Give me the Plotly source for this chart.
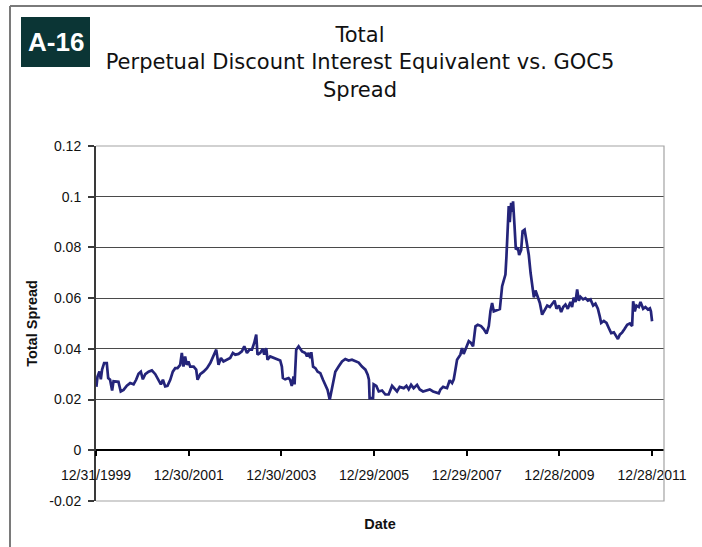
import plotly.graph_objects as go

# Total spread series (date, value)
dates = [
    "2000-01-03", "2000-01-12", "2000-01-27", "2000-02-07", "2000-02-17", "2000-03-04",
    "2000-03-25", "2000-04-05", "2000-04-20", "2000-05-06", "2000-05-17", "2000-06-25",
    "2000-07-13", "2000-08-04", "2000-08-30", "2000-09-25", "2000-10-22", "2000-11-11",
    "2000-11-30", "2000-12-18", "2001-01-03", "2001-01-22", "2001-02-17", "2001-03-15",
    "2001-04-11", "2001-05-07", "2001-05-25", "2001-06-10", "2001-06-28", "2001-07-16",
    "2001-08-07", "2001-08-27", "2001-09-15", "2001-10-03", "2001-10-24", "2001-11-06",
    "2001-11-19", "2001-12-02", "2001-12-15", "2001-12-28", "2002-01-11", "2002-02-07",
    "2002-02-27", "2002-03-10", "2002-03-31", "2002-04-26", "2002-05-23", "2002-06-18",
    "2002-07-14", "2002-08-04", "2002-08-22", "2002-09-10", "2002-09-30", "2002-10-31",
    "2002-11-22", "2002-12-13", "2003-01-01", "2003-01-27", "2003-02-22", "2003-03-13",
    "2003-04-03", "2003-04-23", "2003-05-12", "2003-05-30", "2003-06-15", "2003-06-25",
    "2003-07-16", "2003-08-06", "2003-08-17", "2003-09-02", "2003-09-12", "2003-10-03",
    "2003-10-30", "2003-11-25", "2003-12-21", "2004-01-03", "2004-01-11", "2004-01-29",
    "2004-02-25", "2004-03-08", "2004-03-21", "2004-04-04", "2004-04-12", "2004-04-25",
    "2004-05-14", "2004-06-10", "2004-07-06", "2004-07-19", "2004-08-01", "2004-08-14",
    "2004-08-22", "2004-09-05", "2004-09-23", "2004-10-11", "2004-11-01", "2004-11-22",
    "2004-12-10", "2004-12-28", "2005-01-14", "2005-01-24", "2005-02-09", "2005-02-27",
    "2005-03-25", "2005-04-21", "2005-05-17", "2005-06-12", "2005-07-08", "2005-08-04",
    "2005-08-30", "2005-09-25", "2005-10-22", "2005-11-09", "2005-11-19", "2005-11-24",
    "2005-12-21", "2005-12-26", "2006-01-16", "2006-02-04", "2006-03-02", "2006-03-28",
    "2006-04-23", "2006-05-20", "2006-06-07", "2006-06-28", "2006-07-19", "2006-08-20",
    "2006-09-10", "2006-09-28", "2006-10-17", "2006-11-06", "2006-12-03", "2006-12-24",
    "2007-01-19", "2007-02-15", "2007-03-13", "2007-04-08", "2007-05-05", "2007-05-23",
    "2007-06-05", "2007-06-26", "2007-07-27", "2007-08-17", "2007-09-05", "2007-09-18",
    "2007-10-01", "2007-10-14", "2007-11-09", "2007-11-22", "2007-12-05", "2007-12-26",
    "2008-01-14", "2008-02-01", "2008-02-17", "2008-03-07", "2008-03-25", "2008-04-20",
    "2008-05-11", "2008-06-02", "2008-06-20", "2008-07-03", "2008-07-16", "2008-07-29",
    "2008-08-19", "2008-09-15", "2008-10-03", "2008-10-16", "2008-10-29", "2008-11-06",
    "2008-11-16", "2008-11-24", "2008-12-02", "2008-12-13", "2008-12-23", "2008-12-28",
    "2009-01-08", "2009-01-19", "2009-02-04", "2009-02-14", "2009-03-02", "2009-03-13",
    "2009-03-29", "2009-04-14", "2009-05-01", "2009-05-15", "2009-05-28", "2009-06-10",
    "2009-06-23", "2009-07-06", "2009-07-27", "2009-08-14", "2009-09-02", "2009-09-23",
    "2009-10-14", "2009-11-01", "2009-11-20", "2009-12-05", "2009-12-24", "2010-01-11",
    "2010-01-27", "2010-02-14", "2010-03-04", "2010-03-25", "2010-04-07", "2010-04-20",
    "2010-05-04", "2010-05-17", "2010-05-30", "2010-06-12", "2010-07-03", "2010-07-21",
    "2010-08-09", "2010-08-30", "2010-09-20", "2010-10-08", "2010-10-27", "2010-11-11",
    "2010-11-22", "2010-12-13", "2011-01-03", "2011-01-21", "2011-02-09", "2011-03-02",
    "2011-03-23", "2011-04-03", "2011-04-18", "2011-05-07", "2011-05-25", "2011-06-15",
    "2011-07-06", "2011-07-24", "2011-08-01", "2011-08-14", "2011-08-27", "2011-09-15",
    "2011-09-28", "2011-10-19", "2011-11-06", "2011-11-25", "2011-12-11", "2011-12-19",
    "2011-12-28",
]

total_spread = [
    0.0250, 0.0291, 0.0311, 0.0280, 0.0318, 0.0344,
    0.0344, 0.0285, 0.0278, 0.0236, 0.0272, 0.0270,
    0.0232, 0.0238, 0.0255, 0.0265, 0.0260, 0.0278,
    0.0302, 0.0310, 0.0280, 0.0300, 0.0310, 0.0315,
    0.0300, 0.0278, 0.0260, 0.0278, 0.0252, 0.0254,
    0.0278, 0.0310, 0.0324, 0.0324, 0.0337, 0.0384,
    0.0330, 0.0370, 0.0337, 0.0350, 0.0330, 0.0330,
    0.0318, 0.0278, 0.0300, 0.0310, 0.0324, 0.0344,
    0.0370, 0.0397, 0.0337, 0.0364, 0.0350, 0.0357,
    0.0364, 0.0384, 0.0377, 0.0380, 0.0390, 0.0410,
    0.0384, 0.0397, 0.0397, 0.0423, 0.0456, 0.0377,
    0.0384, 0.0400, 0.0377, 0.0403, 0.0357, 0.0370,
    0.0364, 0.0360, 0.0354, 0.0330, 0.0285, 0.0280,
    0.0285, 0.0278, 0.0254, 0.0291, 0.0260, 0.0397,
    0.0410, 0.0390, 0.0384, 0.0370, 0.0384, 0.0364,
    0.0387, 0.0330, 0.0324, 0.0310, 0.0304, 0.0278,
    0.0260, 0.0238, 0.0199, 0.0225, 0.0265, 0.0310,
    0.0330, 0.0350, 0.0360, 0.0354, 0.0357, 0.0350,
    0.0346, 0.0330, 0.0318, 0.0298, 0.0278, 0.0206,
    0.0206, 0.0260, 0.0254, 0.0232, 0.0236, 0.0220,
    0.0220, 0.0254, 0.0245, 0.0232, 0.0250, 0.0245,
    0.0254, 0.0240, 0.0258, 0.0245, 0.0258, 0.0240,
    0.0232, 0.0236, 0.0240, 0.0232, 0.0226, 0.0225,
    0.0240, 0.0250, 0.0245, 0.0276, 0.0265, 0.0280,
    0.0318, 0.0357, 0.0377, 0.0403, 0.0380, 0.0403,
    0.0430, 0.0423, 0.0410, 0.0489, 0.0495, 0.0490,
    0.0478, 0.0460, 0.0490, 0.0548, 0.0581, 0.0548,
    0.0552, 0.0557, 0.0647, 0.0670, 0.0693, 0.0765,
    0.0884, 0.0963, 0.0900, 0.0976, 0.0940, 0.0982,
    0.0890, 0.0792, 0.0800, 0.0770, 0.0790, 0.0864,
    0.0870, 0.0820, 0.0770, 0.0700, 0.0650, 0.0603,
    0.0630, 0.0610, 0.0581, 0.0535, 0.0550, 0.0571,
    0.0565, 0.0578, 0.0590, 0.0558, 0.0571, 0.0545,
    0.0565, 0.0575, 0.0558, 0.0585, 0.0565, 0.0603,
    0.0585, 0.0634, 0.0590, 0.0605, 0.0595, 0.0600,
    0.0590, 0.0595, 0.0571, 0.0578, 0.0558, 0.0528,
    0.0502, 0.0510, 0.0502, 0.0482, 0.0462, 0.0465,
    0.0449, 0.0439, 0.0456, 0.0465, 0.0478, 0.0495,
    0.0500, 0.0490, 0.0588, 0.0548, 0.0571, 0.0565,
    0.0585, 0.0558, 0.0565, 0.0555, 0.0560, 0.0548,
    0.0509,
]

# Axis ticks
x_tick_dates = ["1999-12-31", "2001-12-30", "2003-12-30", "2005-12-29",
                "2007-12-29", "2009-12-28", "2011-12-28"]
x_tick_labels = ["12/31/1999", "12/30/2001", "12/30/2003", "12/29/2005",
                 "12/29/2007", "12/28/2009", "12/28/2011"]
y_tick_values = [-0.02, 0, 0.02, 0.04, 0.06, 0.08, 0.1, 0.12]
y_tick_labels = ["-0.02", "0", "0.02", "0.04", "0.06", "0.08", "0.1", "0.12"]

W, H = 702, 547
L, R, T, B = 96, 38, 146, 46
PW, PH = W - L - R, H - T - B


def px(x):
    """Pixel column -> paper x."""
    return (x - L) / PW


def py(y):
    """Pixel row -> paper y."""
    return (H - B - y) / PH


Y_MIN, Y_MAX = -0.02, 0.12

fig = go.Figure()
fig.add_trace(go.Scatter(
    x=dates, y=total_spread, mode="lines",
    line=dict(color="#24247a", width=2.7),
    showlegend=False, hoverinfo="x+y",
))

tick_font = dict(family="Liberation Sans, Arial, sans-serif", size=14, color="#111111")
title_font = dict(family="Liberation Sans, Arial, sans-serif", size=14.5, color="#111111", weight="bold")

fig.update_layout(
    width=W, height=H,
    margin=dict(l=L, r=R, t=T, b=B, autoexpand=False),
    paper_bgcolor="white", plot_bgcolor="white",
    title=dict(
        text="Total<br>Perpetual Discount Interest Equivalent vs. GOC5<br>Spread",
        font=dict(family="DejaVu Sans, sans-serif", size=21, color="#111111"),
        xref="container", x=360 / W, xanchor="center",
        yref="container", y=1 - 42 / H, yanchor="top",
    ),
    xaxis=dict(
        type="date",
        range=["1999-12-31", "2012-03-31"],
        tickmode="array", tickvals=x_tick_dates, ticktext=x_tick_labels,
        anchor="free", position=(0 - Y_MIN) / (Y_MAX - Y_MIN),
        showline=True, linecolor="#000000", linewidth=1.5,
        ticks="outside", ticklen=5, tickwidth=1.5, tickcolor="#000000",
        ticklabelstandoff=7,
        showgrid=False, zeroline=False,
        tickfont=tick_font,
        title=dict(text="Date", font=title_font, standoff=36),
        automargin=False,
    ),
    yaxis=dict(
        range=[Y_MIN, Y_MAX],
        tickmode="array", tickvals=y_tick_values, ticktext=y_tick_labels,
        showline=True, linecolor="#3a3a3a", linewidth=2,
        ticks="outside", ticklen=6, tickwidth=1.5, tickcolor="#3a3a3a",
        ticklabelstandoff=4,
        showgrid=True, gridcolor="#4a4a4a", gridwidth=1.2,
        zeroline=False,
        tickfont=tick_font,
        title=dict(text="Total Spread", font=title_font, standoff=8),
        automargin=False,
    ),
    shapes=[
        # plot-area border (top, right, bottom)
        dict(type="path", xref="paper", yref="paper",
             path="M 0,1 L 1,1 L 1,0 L 0,0",
             line=dict(color="#a3a3a3", width=1.2), layer="above"),
        # outer chart frame (left and top edges)
        dict(type="line", xref="paper", yref="paper",
             x0=px(10), x1=px(10), y0=py(6), y1=py(H + 5),
             line=dict(color="#7a7a7a", width=2)),
        dict(type="line", xref="paper", yref="paper",
             x0=px(10), x1=px(W + 5), y0=py(6), y1=py(6),
             line=dict(color="#7a7a7a", width=2)),
        # exhibit badge
        dict(type="rect", xref="paper", yref="paper",
             x0=px(21), x1=px(90), y0=py(67), y1=py(17),
             fillcolor="#0b3535", line=dict(width=0)),
    ],
    annotations=[
        dict(text="A-16", xref="paper", yref="paper",
             x=px(55.5), y=py(42), xanchor="center", yanchor="middle",
             showarrow=False,
             font=dict(family="Liberation Sans, Arial, sans-serif", size=26,
                       color="white", weight="bold")),
    ],
)

fig.write_html("out.html")
